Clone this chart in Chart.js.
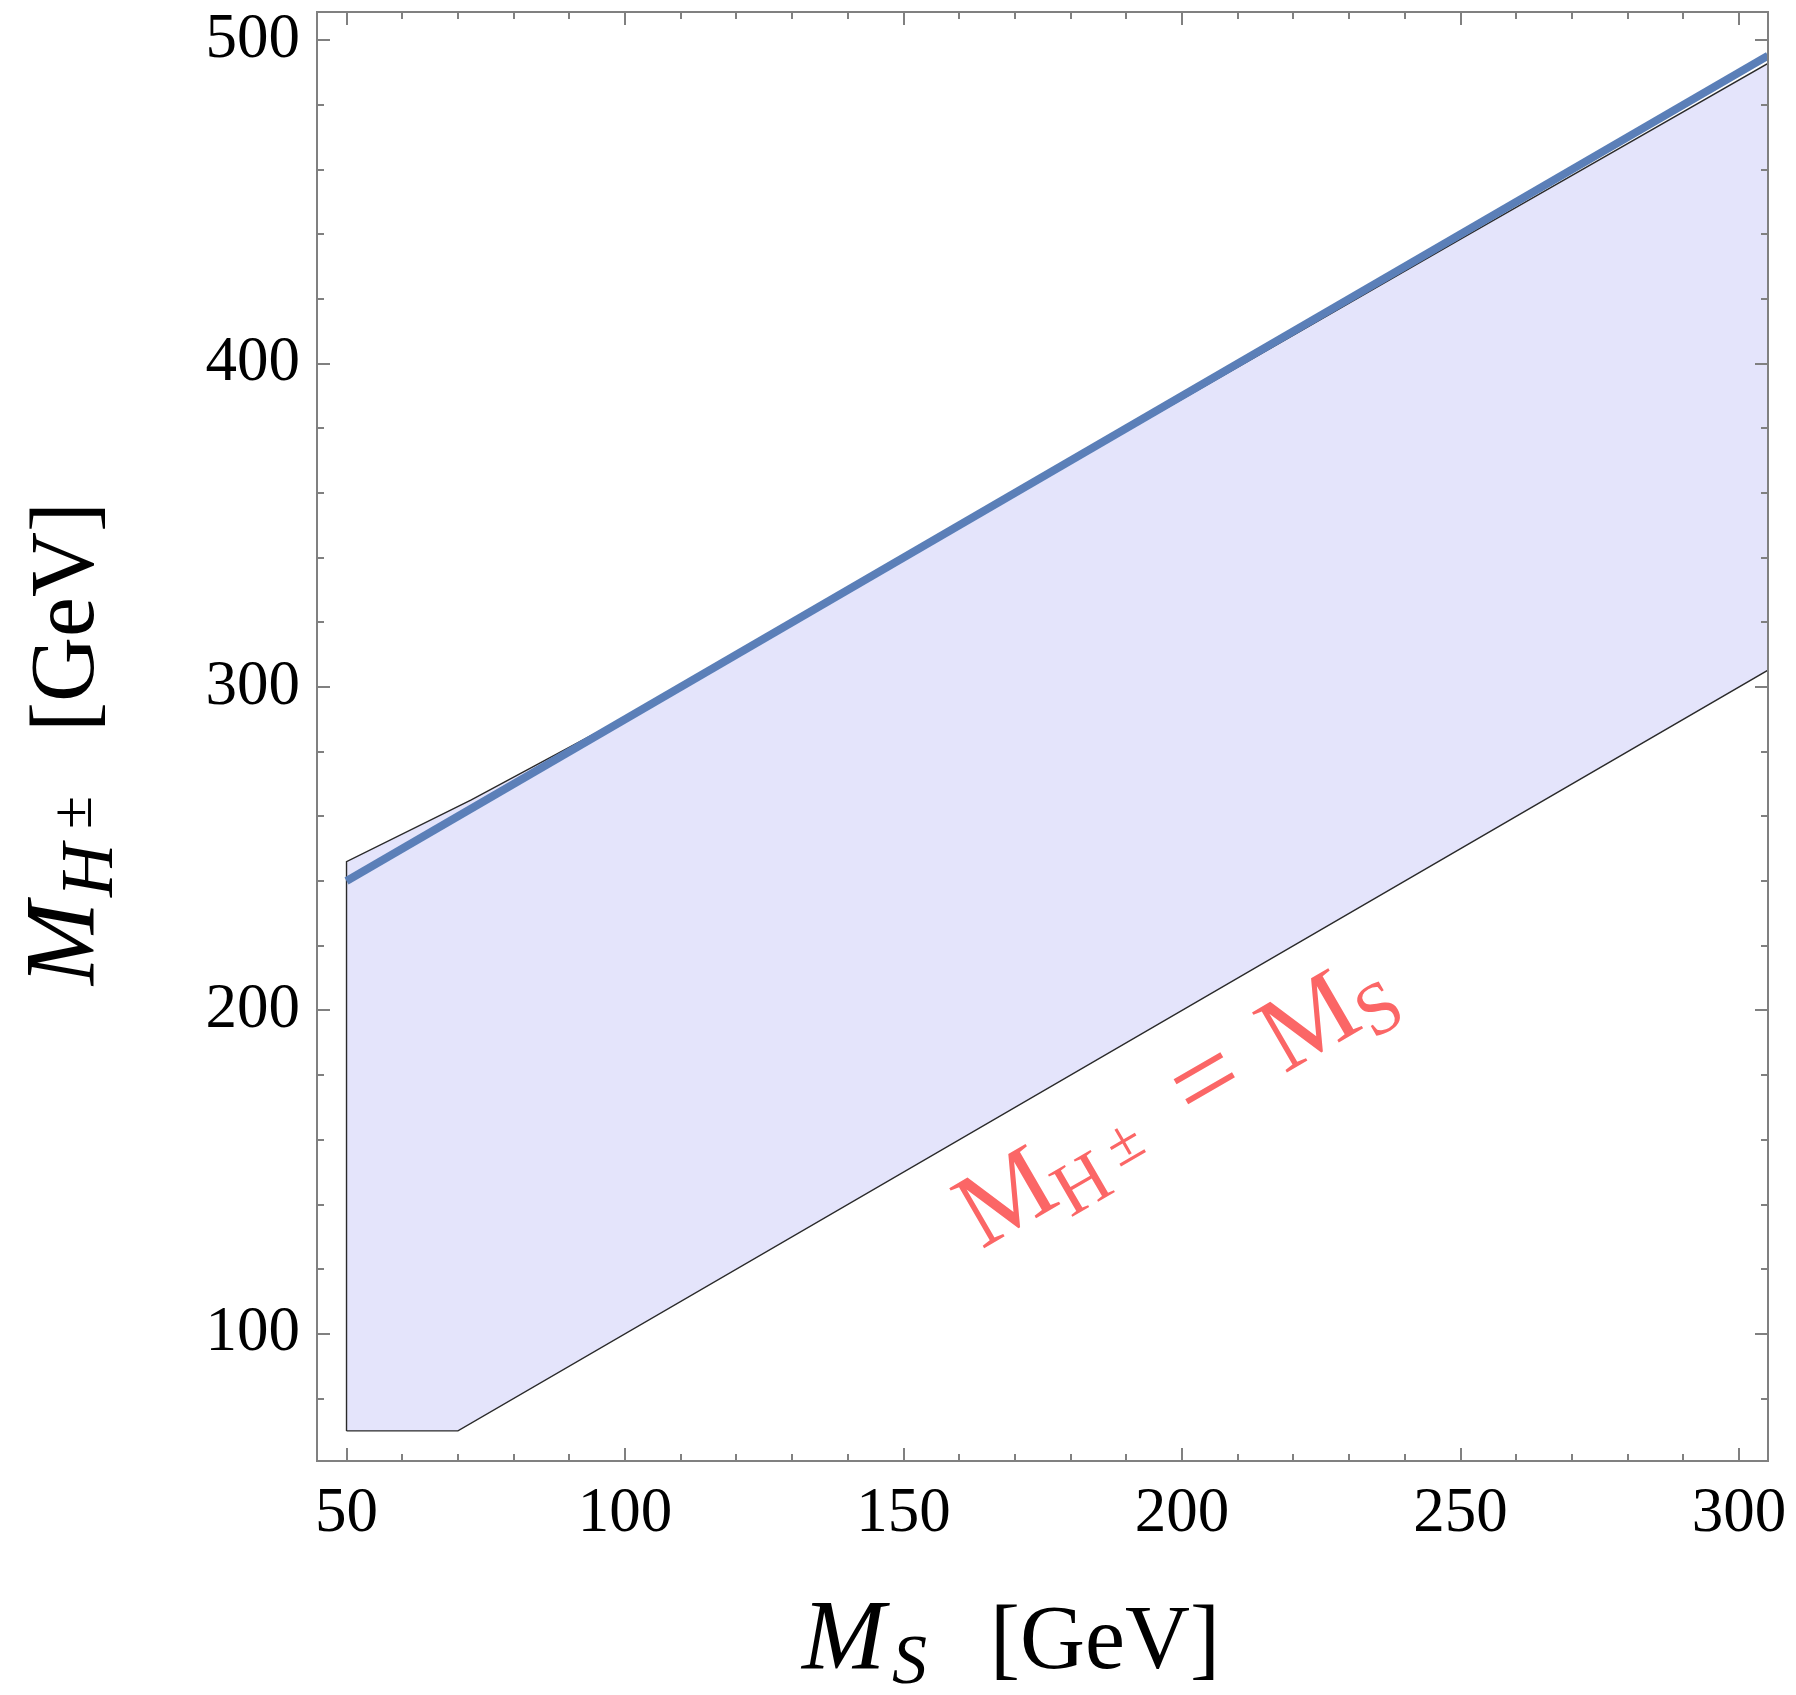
<!DOCTYPE html>
<html>
<head>
<meta charset="utf-8">
<script src="https://cdn.jsdelivr.net/npm/chart.js@4"></script>
<style>
  html, body { margin: 0; padding: 0; background: #fff; }
  #wrap { width: 1796px; height: 1695px; position: relative; }
</style>
</head>
<body>
<div id="wrap"><canvas id="massChart"></canvas></div>
<script>
// ==========================
// DATA
// ==========================
const xTicks = [50, 100, 150, 200, 250, 300];
const yTicks = [100, 200, 300, 400, 500];
const xRange = [44.7, 305.2];
const yRange = [60.7, 508.7];

// allowed region, closed outline (bottom edge, right edge, upper curve back)
const regionX = [50, 70, 305.2, 305.2, 250, 200, 150, 100, 92.8, 72.4, 50, 50];
const regionY = [70, 70, 305.2, 492.8, 438.5, 389, 340, 290.5, 284, 265.1, 246, 70];

// blue bound
const boundX = [50, 305.2];
const boundY = [240, 495.2];

// where the "M_H = M_S" label starts (data coords)
const labelAt = [164, 126];

// ==========================
// HELPERS
// ==========================
const SERIF = '"Liberation Serif", "Times New Roman", serif';
const pts = (xs, ys) => xs.map((x, i) => ({ x: x, y: ys[i] }));

function drawRuns(ctx, runs) {
  runs.forEach(r => {
    ctx.font = (r.italic ? 'italic ' : '') + r.size + 'px ' + SERIF;
    ctx.fillText(r.text, r.dx, r.dy || 0);
  });
}

// ==========================
// FRAME, TICKS, TITLES
// ==========================
const framePlugin = {
  id: 'frameTicks',
  afterDraw(chart) {
    const { ctx, chartArea: a, scales } = chart;
    const x = scales.x, y = scales.y;
    ctx.save();

    // frame
    ctx.strokeStyle = '#808080';
    ctx.lineWidth = 2;
    ctx.strokeRect(a.left, a.top, a.right - a.left, a.bottom - a.top);

    // inward ticks on all four sides
    ctx.beginPath();
    for (let v = 50; v <= 300; v += 10) {
      const px = Math.round(x.getPixelForValue(v));
      const len = xTicks.includes(v) ? 13 : 7;
      ctx.moveTo(px, a.bottom); ctx.lineTo(px, a.bottom - len);
      ctx.moveTo(px, a.top); ctx.lineTo(px, a.top + len);
    }
    for (let v = 80; v <= 500; v += 20) {
      const py = Math.round(y.getPixelForValue(v));
      const len = yTicks.includes(v) ? 13 : 7;
      ctx.moveTo(a.left, py); ctx.lineTo(a.left + len, py);
      ctx.moveTo(a.right, py); ctx.lineTo(a.right - len, py);
    }
    ctx.stroke();

    ctx.fillStyle = '#000';
    ctx.textAlign = 'left';
    ctx.textBaseline = 'alphabetic';

    // x title: M_S [GeV]
    ctx.save();
    ctx.translate(a.left + 485, a.bottom + 207);
    drawRuns(ctx, [
      { text: 'M', size: 100, italic: true, dx: 0 },
      { text: 'S', size: 70, italic: true, dx: 90, dy: 15 },
      { text: '[GeV]', size: 90, dx: 188 }
    ]);
    ctx.restore();

    // y title: M_{H±} [GeV]
    ctx.save();
    ctx.translate(a.left - 224, a.bottom - 476);
    ctx.rotate(-Math.PI / 2);
    drawRuns(ctx, [
      { text: 'M', size: 100, italic: true, dx: 0 },
      { text: 'H', size: 74, italic: true, dx: 88, dy: 19 },
      { text: '±', size: 60, dx: 156, dy: -2 },
      { text: '[GeV]', size: 90, dx: 253 }
    ]);
    ctx.restore();

    // red label along the diagonal
    const p0x = x.getPixelForValue(100), p0y = y.getPixelForValue(100);
    const p1x = x.getPixelForValue(300), p1y = y.getPixelForValue(300);
    const ang = Math.atan2(p1y - p0y, p1x - p0x);
    ctx.save();
    ctx.beginPath();
    ctx.rect(a.left, a.top, a.right - a.left, a.bottom - a.top);
    ctx.clip();
    ctx.translate(x.getPixelForValue(labelAt[0]), y.getPixelForValue(labelAt[1]));
    ctx.rotate(ang);
    ctx.fillStyle = '#fb6666';
    drawRuns(ctx, [
      { text: 'M', size: 106, dx: 0 },
      { text: 'H', size: 74, dx: 93, dy: 17 },
      { text: '±', size: 62, dx: 160, dy: -2 },
      { text: '=', size: 116, dx: 246, dy: 2 },
      { text: 'M', size: 106, dx: 350 },
      { text: 'S', size: 74, dx: 444, dy: 15 }
    ]);
    ctx.restore();

    ctx.restore();
  }
};

// ==========================
// CHART
// ==========================
const ctx = document.getElementById('massChart').getContext('2d');

const chart = new Chart(ctx, {
  type: 'scatter',
  data: {
    datasets: [
      {
        label: 'bound',
        data: pts(boundX, boundY),
        showLine: true,
        borderColor: '#5b7fb8',
        borderWidth: 8,
        pointRadius: 0,
        fill: false
      },
      {
        label: 'region',
        data: pts(regionX, regionY),
        showLine: true,
        borderColor: '#2a2a2a',
        borderWidth: 1.4,
        backgroundColor: '#e4e4fb',
        pointRadius: 0,
        fill: 'shape'
      }
    ]
  },
  options: {
    responsive: true,
    maintainAspectRatio: false,
    animation: false,
    layout: { padding: { top: 12, right: 28, left: 0, bottom: 0 } },
    plugins: {
      legend: { display: false },
      tooltip: { enabled: false }
    },
    scales: {
      x: {
        type: 'linear',
        min: xRange[0],
        max: xRange[1],
        grid: { display: false, drawTicks: false },
        border: { display: false },
        afterBuildTicks: s => { s.ticks = xTicks.map(v => ({ value: v })); },
        afterFit: s => { s.height = 234; s.paddingLeft = 0; s.paddingRight = 0; },
        ticks: {
          color: '#000',
          padding: 16,
          maxRotation: 0,
          font: { family: SERIF, size: 63 }
        }
      },
      y: {
        type: 'linear',
        min: yRange[0],
        max: yRange[1],
        grid: { display: false, drawTicks: false },
        border: { display: false },
        afterBuildTicks: s => { s.ticks = yTicks.map(v => ({ value: v })); },
        afterFit: s => { s.width = 317; s.paddingTop = 0; s.paddingBottom = 0; },
        ticks: {
          color: '#000',
          padding: 17,
          font: { family: SERIF, size: 63 }
        }
      }
    }
  },
  plugins: [framePlugin]
});
</script>
</body>
</html>
